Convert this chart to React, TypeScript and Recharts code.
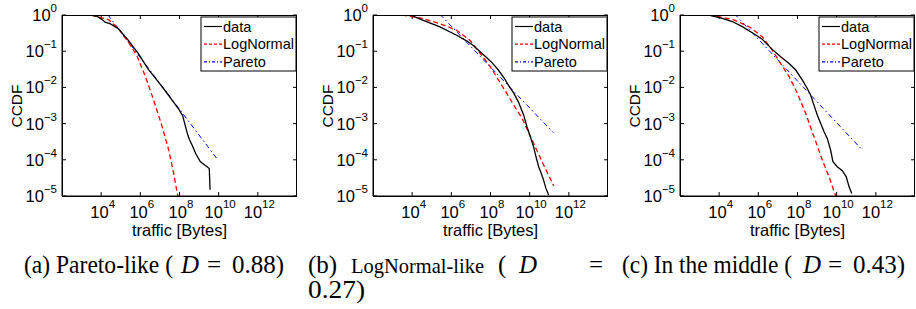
import React from "react";
import { LineChart, Line, XAxis, YAxis, ReferenceLine } from "recharts";

// all values are log10: x = log10(traffic bytes), y = log10(CCDF)
const xTicks = [4, 6, 8, 10, 12];
const yTicks = [0, -1, -2, -3, -4, -5];

// (a) Pareto-like
const aDataX = [3.45, 3.8, 4.11, 4.2, 4.45, 4.88, 5.39, 5.9, 6.41, 6.94, 7.28, 7.62, 7.96, 8.16, 8.3, 8.4, 8.5, 8.64, 8.84, 9.06, 9.32, 9.52, 9.56];
const aDataY = [0, -0.04, -0.15, -0.2, -0.24, -0.38, -0.7, -1.07, -1.5, -1.86, -2.1, -2.35, -2.6, -2.78, -3.07, -3.27, -3.43, -3.59, -3.84, -4.05, -4.16, -4.24, -4.83];
const aLogNX = [3.5, 4.38, 4.89, 5.4, 5.83, 6.26, 6.68, 7.11, 7.45, 7.7, 7.91];
const aLogNY = [0, -0.13, -0.38, -0.76, -1.13, -1.7, -2.35, -3.08, -3.73, -4.37, -5.0];
const aParX = [3.69, 4.35, 9.9];
const aParY = [0, 0, -3.96];

// (b) LogNormal-like
const bDataX = [3.48, 3.99, 4.57, 5.42, 6.27, 6.8, 7.12, 7.4, 7.81, 8.1, 8.4, 8.67, 8.93, 9.18, 9.44, 9.69, 9.86, 10.03, 10.2, 10.32, 10.46, 10.59, 10.71, 10.83, 10.97];
const bDataY = [0, -0.02, -0.15, -0.33, -0.56, -0.72, -0.84, -0.98, -1.18, -1.33, -1.52, -1.72, -1.95, -2.15, -2.42, -2.76, -3.08, -3.36, -3.64, -3.91, -4.19, -4.37, -4.56, -4.79, -4.97];
const bLogNX = [3.48, 4.57, 5.42, 6.27, 6.95, 7.36, 7.98, 8.32, 8.76, 9.2, 9.61, 10.12, 10.63, 11.23];
const bLogNY = [0, -0.1, -0.24, -0.42, -0.7, -0.98, -1.42, -1.72, -2.1, -2.5, -2.85, -3.45, -4.05, -4.72];
const bParX = [3.48, 5.45, 11.21];
const bParY = [0, 0, -3.25];

// (c) In the middle
const cDataX = [3.48, 4.16, 4.67, 5.18, 5.69, 6.2, 6.71, 7.14, 7.57, 7.91, 8.25, 8.5, 8.67, 8.84, 9.01, 9.18, 9.35, 9.52, 9.69, 9.81, 10.03, 10.29, 10.49, 10.63, 10.77];
const cDataY = [0, -0.09, -0.18, -0.32, -0.49, -0.67, -0.95, -1.15, -1.34, -1.52, -1.8, -2.03, -2.21, -2.49, -2.76, -2.99, -3.22, -3.41, -3.73, -4.05, -4.19, -4.3, -4.47, -4.74, -4.93];
const cLogNX = [3.48, 4.67, 5.52, 6.2, 6.71, 7.14, 7.57, 7.99, 8.42, 8.84, 9.27, 9.61, 9.95];
const cLogNY = [0, -0.12, -0.32, -0.6, -0.97, -1.34, -1.7, -2.16, -2.72, -3.36, -4.01, -4.47, -5.0];
const cParX = [3.48, 4.84, 11.31];
const cParY = [0, 0, -3.73];

const SANS = "'Liberation Sans', Arial, Helvetica, sans-serif";
const SERIF = "'Liberation Serif', 'Times New Roman', serif";

const PLOT_W = 235;
const PLOT_TOP = 15;
const PLOT_H = 181;

const zip = (xs: number[], ys: number[]) => xs.map((x, i) => ({ x, y: ys[i] }));

const XTick = ({ x, y, payload }: any) => (
  <text x={x + 1.5} y={y + 22} textAnchor="middle" fontSize={16.5} fontFamily={SANS} fill="#000">
    10
    <tspan dy={-10} fontSize={11.5}>{payload.value}</tspan>
  </text>
);

const YTick = ({ x, y, payload }: any) => (
  <text x={x} y={y + 6} textAnchor="end" fontSize={16.5} fontFamily={SANS} fill="#000">
    10
    <tspan dy={-9} fontSize={11.5}>{payload.value === 0 ? "0" : "\u2212" + Math.abs(payload.value)}</tspan>
  </text>
);

function Panel({ plotLeft, data, logn, par }: any) {
  return (
    <div style={{ position: "absolute", left: plotLeft - 62, top: 0 }}>
      <LineChart width={62 + PLOT_W} height={240} margin={{ top: PLOT_TOP, right: 0, bottom: 0, left: 0 }}>
        <XAxis type="number" dataKey="x" domain={[2, 14]} ticks={xTicks} interval={0}
          allowDataOverflow height={44} tickSize={-4} tickMargin={4} stroke="#000" tick={<XTick />} />
        <YAxis type="number" domain={[-5, 0]} ticks={yTicks} interval={0} allowDataOverflow
          width={62} tickSize={-4} tickMargin={9} stroke="#000" tick={<YTick />} />
        {/* mirrored inward ticks on top and right */}
        {xTicks.map((t) => (
          <ReferenceLine key={"t" + t} segment={[{ x: t, y: 0 }, { x: t, y: -0.11 }]} stroke="#000" ifOverflow="visible" />
        ))}
        {yTicks.map((t) => (
          <ReferenceLine key={"r" + t} segment={[{ x: 14, y: t }, { x: 13.8, y: t }]} stroke="#000" ifOverflow="visible" />
        ))}
        <Line data={par} dataKey="y" type="linear" stroke="#0000ff"
          strokeWidth={1} strokeDasharray="5 3 1.5 3" dot={false} isAnimationActive={false} />
        <Line data={logn} dataKey="y" type="linear" stroke="#ff0000"
          strokeWidth={1.3} strokeDasharray="5 3" dot={false} isAnimationActive={false} />
        <Line data={data} dataKey="y" type="linear" stroke="#000"
          strokeWidth={1.3} dot={false} isAnimationActive={false} />
      </LineChart>
    </div>
  );
}

const panels = [
  { plotLeft: 62, data: zip(aDataX, aDataY), logn: zip(aLogNX, aLogNY), par: zip(aParX, aParY) },
  { plotLeft: 373, data: zip(bDataX, bDataY), logn: zip(bLogNX, bLogNY), par: zip(bParX, bParY) },
  { plotLeft: 680, data: zip(cDataX, cDataY), logn: zip(cLogNX, cLogNY), par: zip(cParX, cParY) },
];

function LegendBox({ x }: { x: number }) {
  const y = 17;
  const rows = [
    { label: "data", stroke: "#000", dash: undefined },
    { label: "LogNormal", stroke: "#ff0000", dash: "3 2" },
    { label: "Pareto", stroke: "#0000ff", dash: "3 2 1 2" },
  ];
  return (
    <g>
      <rect x={x} y={y} width={95} height={54} fill="#fff" stroke="#000" strokeWidth={1} />
      {rows.map((r, i) => {
        const cy = y + 9.5 + i * 17.7;
        return (
          <g key={r.label}>
            <line x1={x + 3} x2={x + 21} y1={cy} y2={cy} stroke={r.stroke} strokeWidth={1.2} strokeDasharray={r.dash} />
            <text x={x + 22} y={cy + 5} fontSize={14.5} fontFamily={SANS} fill="#000">{r.label}</text>
          </g>
        );
      })}
    </g>
  );
}

const cap = { fontSize: 25, fontFamily: SERIF, fill: "#000" };

export default function App() {
  return (
    <div style={{ position: "absolute", left: 0, top: 0, width: 916, height: 309, overflow: "hidden", background: "#fff" }}>
      {panels.map((p, i) => (
        <Panel key={i} {...p} />
      ))}
      <svg width={916} height={309} style={{ position: "absolute", left: 0, top: 0, pointerEvents: "none" }}>
        {panels.map((p, i) => (
          <g key={i}>
            {/* axes frame */}
            <rect x={p.plotLeft + 0.5} y={PLOT_TOP + 0.5} width={PLOT_W - 1} height={PLOT_H} fill="none" stroke="#000" strokeWidth={1} />
            <LegendBox x={p.plotLeft + 139} />
            <text x={p.plotLeft + 117.5} y={236} textAnchor="middle" fontSize={16.5} fontFamily={SANS} fill="#000">
              traffic [Bytes]
            </text>
            <text transform={`translate(${p.plotLeft - 40},106) rotate(-90)`} textAnchor="middle" fontSize={15.5}
              fontFamily={SANS} fill="#000">
              CCDF
            </text>
          </g>
        ))}
        {/* (a) */}
        <text x={24} y={273} {...cap} textLength={149} lengthAdjust="spacingAndGlyphs">(a) Pareto-like (</text>
        <text x={181} y={273} {...cap} fontStyle="italic">D</text>
        <text x={207} y={273} {...cap}>=</text>
        <text x={232} y={273} {...cap}>0.88)</text>
        {/* (b) justified over two lines */}
        <text x={308} y={273} {...cap}>(b)</text>
        <text x={351} y={273} {...cap} fontSize={22} textLength={133} lengthAdjust="spacingAndGlyphs">LogNormal-like</text>
        <text x={498} y={273} {...cap}>(</text>
        <text x={519} y={273} {...cap} fontStyle="italic">D</text>
        <text x={589} y={273} {...cap}>=</text>
        <text x={308} y={298} {...cap} textLength={57} lengthAdjust="spacingAndGlyphs">0.27)</text>
        {/* (c) */}
        <text x={622} y={273} {...cap} textLength={170} lengthAdjust="spacingAndGlyphs">(c) In the middle (</text>
        <text x={803} y={273} {...cap} fontStyle="italic">D</text>
        <text x={828} y={273} {...cap}>=</text>
        <text x={853} y={273} {...cap}>0.43)</text>
      </svg>
    </div>
  );
}
